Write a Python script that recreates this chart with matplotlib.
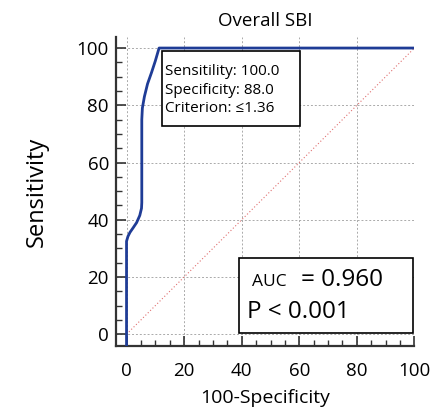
import matplotlib
matplotlib.use("Agg")
import matplotlib.pyplot as plt
from matplotlib.ticker import MultipleLocator
from matplotlib.patches import Rectangle

plt.rcParams['font.family'] = ['Open Sans', 'DejaVu Sans']

# ROC curve (100-Specificity, Sensitivity)
roc_x = [0, 0, 0, 0.5, 1.2, 2.3, 3.5, 4.6, 5.2, 5.3, 5.3, 5.5, 6.2, 7.3, 8.7, 10.0, 11.3, 100]
roc_y = [-4, 0, 32.5, 34.2, 35.6, 37.2, 39.0, 41.5, 44.0, 46.0, 75.0, 79.0, 83.0, 87.5, 91.5, 95.5, 100, 100]
diag_x = [0, 100]
diag_y = [0, 100]
ticks = [0, 20, 40, 60, 80, 100]
title = "Overall SBI"
xlabel = "100-Specificity"
ylabel = "Sensitivity"
crit_lines = ["Sensitility: 100.0", "Specificity: 88.0", "Criterion: \u22641.36"]
auc_value = "0.960"
p_text = "P < 0.001"

fig = plt.figure(figsize=(4.34, 4.13), dpi=100)
ax = fig.add_axes([0.267, 0.163, 0.688, 0.747])
ax.set_xlim(-3.7, 100)
ax.set_ylim(-4, 103.8)

ax.grid(True, which='major', color='#aaaaaa', linestyle=(0, (2, 2)), linewidth=0.7)
ax.set_axisbelow(True)

ax.plot(diag_x, diag_y, color='#e07070', linestyle=(0, (1, 2)), linewidth=0.8, zorder=2)
ax.plot(roc_x, roc_y, color='#1f3c96', linewidth=2.0, zorder=3, solid_joinstyle='round')

for s in ['top', 'right']:
    ax.spines[s].set_visible(False)
for s in ['left', 'bottom']:
    ax.spines[s].set_linewidth(1.6)
    ax.spines[s].set_color('#333333')

ax.set_xticks(ticks)
ax.set_yticks(ticks)
ax.xaxis.set_minor_locator(MultipleLocator(5))
ax.yaxis.set_minor_locator(MultipleLocator(5))
ax.tick_params(which='major', direction='in', length=7, width=1.2, color='#333333', labelsize=13.5)
ax.tick_params(which='minor', direction='in', length=4, width=1.0, color='#333333')
ax.tick_params(axis='x', which='major', pad=12)
ax.tick_params(axis='y', which='major', pad=5)

ax.set_title(title, fontsize=13.5, pad=8)
ax.set_xlabel(xlabel, fontsize=14, labelpad=6)
ax.set_ylabel(ylabel, fontsize=17, labelpad=20)

# Criterion box
ax.add_patch(Rectangle((12.3, 72.9), 47.9, 26.2, facecolor='white', edgecolor='black', linewidth=1.2, zorder=4))
for i, line in enumerate(crit_lines):
    ax.text(13.3, 90.7 - i * 6.6, line, fontsize=11, va='baseline', ha='left', zorder=5)

# AUC box
ax.add_patch(Rectangle((39.0, 0.6), 60.6, 26.0, facecolor='white', edgecolor='black', linewidth=1.2, zorder=4))
ax.text(43.5, 18.4, "AUC", fontsize=12.5, va='center', ha='left', zorder=6)
ax.text(60.5, 18.9, "= " + auc_value, fontsize=17.5, va='center', ha='left', zorder=6)
ax.text(42, 7.6, p_text, fontsize=17.5, va='center', ha='left', zorder=6)

fig.savefig("out.png", dpi=100)
